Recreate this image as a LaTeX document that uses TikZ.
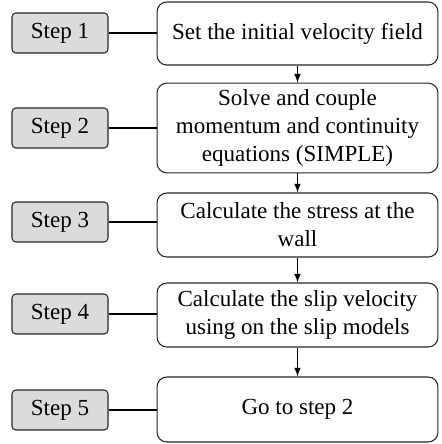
\documentclass[tikz,border=0pt]{standalone}
\usepackage{fontspec}
\setmainfont{Liberation Serif}
\tikzset{
  stepbox/.style={draw=black!85,line width=0.55pt,fill=gray!28,rounded corners=2pt,
                  minimum width=49.2pt,minimum height=20.5pt,
                  font=\fontsize{11.8}{14.3}\selectfont},
  taskbox/.style={draw=black!85,line width=0.55pt,rounded corners=5pt,
                  minimum width=143.9pt,align=center,
                  font=\fontsize{11.8}{14.3}\selectfont},
  joinline/.style={draw=black,line width=0.55pt},
  nextarrow/.style={draw=black,line width=0.55pt,-latex},
}
\begin{document}
\begin{tikzpicture}[x=0.018cm,y=0.018cm]
  \useasboundingbox (0,0) rectangle (441,-444);

  % step labels
  \node[stepbox] (S1) at (60,-33){Step 1};
  \node[stepbox] (S2) at (60,-128){Step 2};
  \node[stepbox] (S3) at (60,-222){Step 3};
  \node[stepbox] (S4) at (60,-314){Step 4};
  \node[stepbox] (S5) at (60,-410){Step 5};

  % tasks
  \node[taskbox,minimum height=32.3pt] (T1) at (297.5,-33.5){Set the initial velocity field};
  \node[taskbox,minimum height=41pt] (T2) at (297.5,-128)
    {Solve and couple\\momentum and continuity\\equations (SIMPLE)};
  \node[taskbox,minimum height=32.8pt] (T3) at (297.5,-225){Calculate the stress at the\\wall};
  \node[taskbox,minimum height=32.8pt] (T4) at (297.5,-315)
    {Calculate the slip velocity\\using on the slip models};
  \node[taskbox,minimum height=33.3pt] (T5) at (297.5,-409.5){Go to step 2};

  \draw[joinline,line width=0.85pt] (S1.east) -- (S1.east -| T1.west);
  \draw[joinline] (S2.east) -- (S2.east -| T2.west);
  \draw[joinline] (S3.east) -- (S3.east -| T3.west);
  \draw[joinline] (S4.east) -- (S4.east -| T4.west);
  \draw[joinline,line width=0.85pt] (S5.east) -- (S5.east -| T5.west);

  \draw[nextarrow] (T1.south) -- (T2.north);
  \draw[nextarrow] (T2.south) -- (T3.north);
  \draw[nextarrow] (T3.south) -- (T4.north);
  \draw[nextarrow] (T4.south) -- (T5.north);

\end{tikzpicture}
\end{document}
